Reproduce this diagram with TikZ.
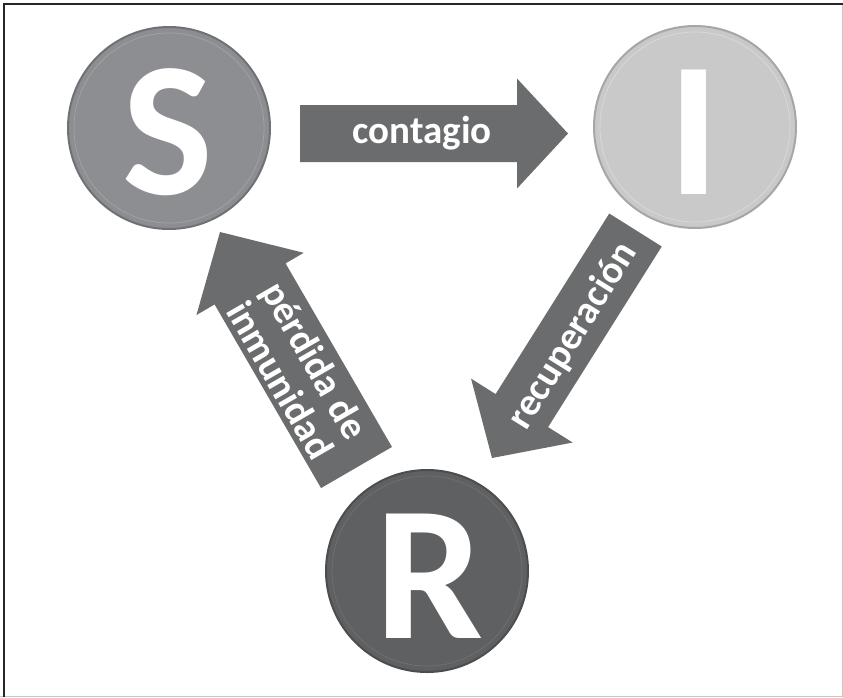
\documentclass[tikz,border=0pt]{standalone}
\usepackage{fontspec}
\setmainfont{Carlito}
\usetikzlibrary{calc}
\definecolor{sfill}{HTML}{8D8E91}
\definecolor{sedge}{HTML}{707174}
\definecolor{sring}{HTML}{A0A1A4}
\definecolor{ifill}{HTML}{C9C9CA}
\definecolor{iedge}{HTML}{A5A6A8}
\definecolor{iring}{HTML}{D8D8D9}
\definecolor{rfill}{HTML}{5F6062}
\definecolor{redge}{HTML}{4C4D4F}
\definecolor{rring}{HTML}{6E6F71}
\definecolor{arrgray}{HTML}{6B6C6E}
\definecolor{framegray}{HTML}{C8C8C8}
\tikzset{
  state/.style={circle, minimum size=202pt, inner sep=0pt, line width=2pt},
  letter/.style={text=white, font=\fontsize{192}{192}\selectfont\bfseries, inner sep=0pt},
  lab/.style={text=white, font=\fontsize{39}{40}\selectfont\bfseries, align=center, inner sep=0pt},
  arrowfill/.style={fill=arrgray},
  ringline/.style={line width=0.8pt}
}
% tail, tip, half shaft, half head, head length
\newcommand\blockarrow[5]{%
  \fill[arrowfill] let \p1=(#1), \p2=(#2),
    \n1={atan2(\y2-\y1,\x2-\x1)}, \n2={veclen(\x2-\x1,\y2-\y1)-#5},
    \n3={\n1+90}, \n4={\n1-90} in
    ($(#1)+(\n3:#3pt)$)
    -- ($(#1)+(\n1:\n2)+(\n3:#3pt)$)
    -- ($(#1)+(\n1:\n2)+(\n3:#4pt)$)
    -- (#2)
    -- ($(#1)+(\n1:\n2)+(\n4:#4pt)$)
    -- ($(#1)+(\n1:\n2)+(\n4:#3pt)$)
    -- ($(#1)+(\n4:#3pt)$) -- cycle;}
\begin{document}
\begin{tikzpicture}[x=1pt,y=-1pt]
\useasboundingbox (0,0) rectangle (843,697);
\fill[white] (0,0) rectangle (843,697);
% frame
\draw[framegray, line width=1pt] (0,696) -- (843,696);
\draw[framegray, line width=1pt] (842,4) -- (842,696);
\draw[black!85, line width=2pt] (4,697) -- (4,4) -- (843,4);

% states
\node[state, fill=sfill, draw=sedge] (S) at (169,128) {};
\node[state, fill=ifill, draw=iedge] (I) at (695,127) {};
\node[state, fill=rfill, draw=redge] (R) at (427,571) {};
\draw[ringline, sring] (S.center) circle[radius=95pt];
\draw[ringline, iring] (I.center) circle[radius=95pt];
\draw[ringline, rring] (R.center) circle[radius=95pt];
\node[letter] (Sl) at ($(S.center)+(-1,4.5)$) {S};
\node[letter] (Il) at ($(I.center)+(-1,5)$) {I};
\node[letter] (Rl) at ($(R.center)+(3,5)$) {R};

% arrows
\coordinate (c1t) at (300,133.5);
\coordinate (c1h) at (568,133.5);
\coordinate (c2t) at (635.5,230);
\coordinate (c2h) at (492,458);
\coordinate (c3t) at (356.5,467.5);
\coordinate (c3h) at (220,232);
\blockarrow{c1t}{c1h}{28.5}{55}{51}
\blockarrow{c2t}{c2h}{31}{60}{56}
\blockarrow{c3t}{c3h}{41}{62}{60}

\node[lab] (l1) at (422,133) {contagio};
\node[lab, rotate=58] (l2) at (573,336) {recuperación};
\node[lab, rotate=-60] (l3) at (298,370) {pérdida de\\inmunidad};
\end{tikzpicture}
\end{document}
